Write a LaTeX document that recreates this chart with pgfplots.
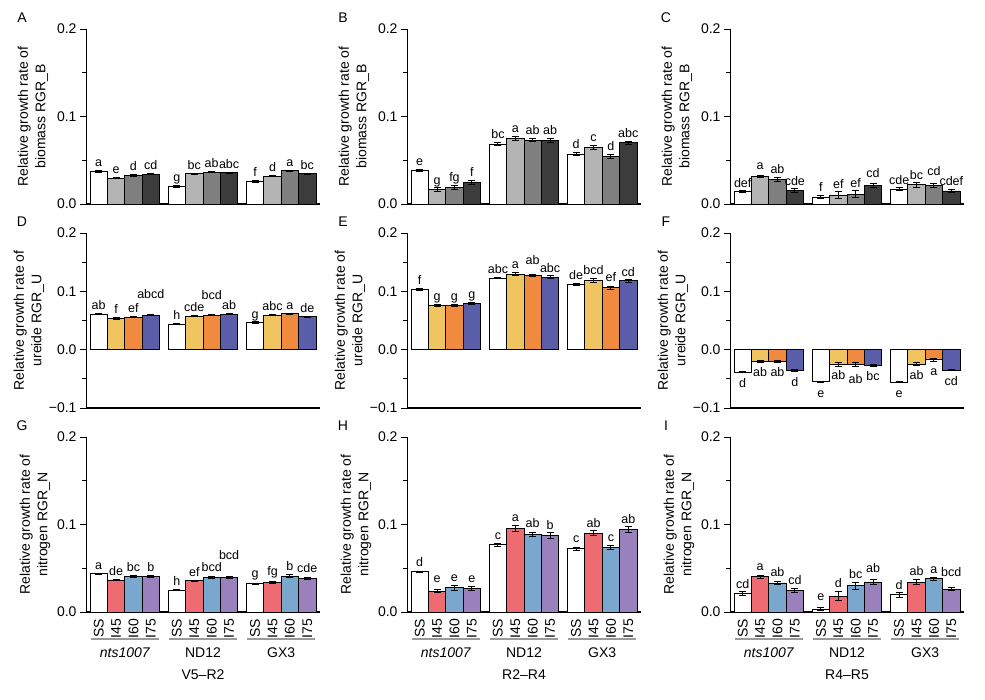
\documentclass[border=0pt]{standalone}
\usepackage{fontspec}
\setmainfont{Liberation Sans}
\usepackage{pgfplots}
\usepackage{pgfplotstable}
\pgfplotsset{compat=1.18}

\definecolor{w}{HTML}{FFFFFF}
\definecolor{g1}{HTML}{B4B4B4}
\definecolor{g2}{HTML}{7F7F7F}
\definecolor{g3}{HTML}{3C3C3C}
\definecolor{y1}{HTML}{F1C462}
\definecolor{y2}{HTML}{F08A3E}
\definecolor{y3}{HTML}{5A5EA8}
\definecolor{r1}{HTML}{EE6B72}
\definecolor{r2}{HTML}{7AA7CD}
\definecolor{r3}{HTML}{9B80BE}
\definecolor{grp}{HTML}{9A9A9A}

\newcommand\ticfont{\fontsize{14}{17}\selectfont}
\newcommand\labfont{\fontsize{14}{17.5}\selectfont}
\newcommand\letfont{\fontsize{12.5}{14}\selectfont}

% t: 0 = SS, 1 = I45, 2 = I60, 3 = I75; dy = baseline offset of the letter (pt)
\pgfplotstableread{
t x y e lab dy
0 0 0.0370 0.0008 a 4
1 1 0.0294 0.0008 e 4
2 2 0.0324 0.0008 d 4
3 3 0.0340 0.0006 cd 4
0 4.5 0.0202 0.0008 g 4
1 5.5 0.0347 0.0007 bc 4
2 6.5 0.0363 0.0008 ab 4
3 7.5 0.0355 0.0008 abc 4
0 9 0.0260 0.0009 f 4
1 10 0.0317 0.0008 d 4
2 11 0.0378 0.0008 a 4
3 12 0.0347 0.0007 bc 4
}\tA
\pgfplotstableread{
t x y e lab dy
0 0 0.0382 0.0012 e 4
1 1 0.0168 0.0020 g 3
2 2 0.0190 0.0020 fg 4
3 3 0.0244 0.0020 f 4
0 4.5 0.0683 0.0015 bc 4
1 5.5 0.0752 0.0025 a 4
2 6.5 0.0729 0.0018 ab 4
3 7.5 0.0725 0.0025 ab 4
0 9 0.0569 0.0015 d 4
1 10 0.0649 0.0022 c 4
2 11 0.0542 0.0020 d 4
3 12 0.0698 0.0022 abc 4
}\tB
\pgfplotstableread{
t x y e lab dy
0 0 0.0141 0.0015 def 3
1 1 0.0313 0.0015 a 6
2 2 0.0282 0.0020 ab 4
3 3 0.0156 0.0020 cde 3
0 4.5 0.0080 0.0015 f 4
1 5.5 0.0103 0.0040 ef 3
2 6.5 0.0110 0.0040 ef 3
3 7.5 0.0214 0.0025 cd 6
0 9 0.0172 0.0020 cde 3
1 10 0.0218 0.0030 bc 3
2 11 0.0210 0.0025 cd 8
3 12 0.0149 0.0015 cdef 4
}\tC
\pgfplotstableread{
t x y e lab dy
0 0 0.0606 0.0010 ab 4
1 1 0.0537 0.0012 f 4
2 2 0.0560 0.0012 ef 4
3 3 0.0594 0.0010 abcd 16
0 4.5 0.0434 0.0008 h 4
1 5.5 0.0577 0.0010 cde 4
2 6.5 0.0589 0.0008 bcd 15
3 7.5 0.0606 0.0010 ab 4
0 9 0.0469 0.0012 g 3
1 10 0.0594 0.0012 abc 4
2 11 0.0617 0.0010 a 4
3 12 0.0566 0.0010 de 4
}\tD
\pgfplotstableread{
t x y e lab dy
0 0 0.1029 0.0015 f 4
1 1 0.0760 0.0020 g 4
2 2 0.0760 0.0020 g 4
3 3 0.0794 0.0020 g 4
0 4.5 0.1229 0.0015 abc 4
1 5.5 0.1297 0.0030 a 4
2 6.5 0.1269 0.0018 ab 10
3 7.5 0.1240 0.0025 abc 3
0 9 0.1120 0.0015 de 4
1 10 0.1189 0.0030 bcd 4
2 11 0.1063 0.0025 ef 5
3 12 0.1183 0.0028 cd 3
}\tE
\pgfplotstableread{
t x y e lab dy
0 0 -0.0389 0.0010 d -15
1 1 -0.0200 0.0018 ab -14
2 2 -0.0206 0.0018 ab -14
3 3 -0.0354 0.0020 d -15
0 4.5 -0.0549 0.0010 e -15
1 5.5 -0.0251 0.0035 ab -13
2 6.5 -0.0251 0.0030 ab -17
3 7.5 -0.0274 0.0015 bc -14
0 9 -0.0560 0.0008 e -15
1 10 -0.0246 0.0025 ab -14
2 11 -0.0171 0.0025 a -14
3 12 -0.0349 0.0015 cd -15
}\tF
\pgfplotstableread{
t x y e lab dy
0 0 0.0435 0.0010 a 4
1 1 0.0366 0.0010 de 4
2 2 0.0405 0.0012 bc 4
3 3 0.0408 0.0010 b 4
0 4.5 0.0252 0.0008 h 4
1 5.5 0.0355 0.0008 ef 4
2 6.5 0.0393 0.0010 bcd 5
3 7.5 0.0393 0.0008 bcd 17
0 9 0.0321 0.0010 g 6
1 10 0.0336 0.0008 fg 6
2 11 0.0412 0.0015 b 4
3 12 0.0378 0.0012 cde 5
}\tG
\pgfplotstableread{
t x y e lab dy
0 0 0.0458 0.0010 d 5
1 1 0.0237 0.0015 e 7
2 2 0.0275 0.0025 e 4
3 3 0.0271 0.0020 e 4
0 4.5 0.0767 0.0015 c 4
1 5.5 0.0954 0.0030 a 4
2 6.5 0.0885 0.0020 ab 5
3 7.5 0.0874 0.0035 b 3
0 9 0.0721 0.0020 c 5
1 10 0.0901 0.0030 ab 3
2 11 0.0740 0.0025 c 4
3 12 0.0943 0.0030 ab 3
}\tH
\pgfplotstableread{
t x y e lab dy
0 0 0.0214 0.0020 cd 3
1 1 0.0401 0.0020 a 5
2 2 0.0332 0.0022 ab 5
3 3 0.0244 0.0020 cd 4
0 4.5 0.0034 0.0020 e 7
1 5.5 0.0179 0.0050 d 4
2 6.5 0.0298 0.0040 bc 4
3 7.5 0.0340 0.0030 ab 7
0 9 0.0195 0.0025 d 3
1 10 0.0340 0.0030 ab 4
2 11 0.0378 0.0022 a 4
3 12 0.0260 0.0015 bcd 11
}\tI

\pgfplotsset{
  treat/.style={restrict expr to domain={\thisrow{t}}{#1:#1}},
  panel/.style={
    width=234pt, height=175pt, scale only axis, anchor=south west,
    xmin=-0.73, xmax=12.73, clip=false,
    axis x line=bottom, axis y line=left,
    x axis line style={-, line width=1.3pt},
    y axis line style={-, line width=1pt},
    tick align=outside, major tick length=6pt, minor tick length=4pt,
    ytick style={black, line width=1pt},
    yticklabel style={font=\ticfont},
    every axis title/.style={at={([xshift=-64pt,yshift=11pt]rel axis cs:0,1)}, anchor=center, font=\ticfont},
  },
  ylab/.style={every axis y label/.style={at={([xshift=#1]rel axis cs:0,0.5)}, rotate=90, anchor=center, align=center, font=\labfont}},
  toprow/.style={ymin=0, ymax=0.2, ytick={0,0.1,0.2}, minor ytick={0.05,0.15},
    yticklabels={0.0,0.1,0.2}, xtick=\empty, ylab=-53pt},
  midrow/.style={ymin=-0.1, ymax=0.2, ytick={-0.1,0,0.1,0.2}, minor ytick={-0.05,0.05,0.15},
    yticklabels={−0.1,0.0,0.1,0.2}, xtick=\empty, ylab=-57pt},
  botrow/.style={ymin=0, ymax=0.2, ytick={0,0.1,0.2}, minor ytick={0.05,0.15},
    yticklabels={0.0,0.1,0.2}, ylab=-51pt,
    xtick={0,1,2,3,4.5,5.5,6.5,7.5,9,10,11,12},
    xticklabels={SS,I45,I60,I75,SS,I45,I60,I75,SS,I45,I60,I75},
    xticklabel style={rotate=90, anchor=east, font=\ticfont, inner sep=1pt},
    x tick style={draw=none}, major x tick style={draw=none}},
  barst/.style={ybar, bar width=1, bar shift=0pt, draw=black, line width=0.9pt,
    error bars/y dir=both, error bars/y explicit,
    error bars/error bar style={line width=1pt, black},
    error bars/error mark options={rotate=90, line width=1pt, mark size=3.5pt, black}},
  letters/.style={draw=none, mark=none, nodes near coords, point meta=explicit symbolic,
    visualization depends on={\thisrow{dy} \as \labdy},
    every node near coord/.append style={anchor=base, yshift=\labdy pt, font=\letfont, inner sep=0pt, text=black}},
}

\newcommand\bars[5]{%
  \addplot[barst, fill=#2, treat=0] table[x=x, y=y, y error=e]{#1};
  \addplot[barst, fill=#3, treat=1] table[x=x, y=y, y error=e]{#1};
  \addplot[barst, fill=#4, treat=2] table[x=x, y=y, y error=e]{#1};
  \addplot[barst, fill=#5, treat=3] table[x=x, y=y, y error=e]{#1};
  \addplot[letters] table[x=x, y expr={\thisrow{y}+ifthenelse(\thisrow{y}<0,-1,1)*\thisrow{e}}, meta=lab]{#1};
}
\newcommand\groups[1]{%
  \draw[grp, line width=2pt] ([yshift=-27pt]axis cs:-0.45,0) -- ([yshift=-27pt]axis cs:3.45,0);
  \draw[grp, line width=2pt] ([yshift=-27pt]axis cs:4.05,0) -- ([yshift=-27pt]axis cs:7.95,0);
  \draw[grp, line width=2pt] ([yshift=-27pt]axis cs:8.55,0) -- ([yshift=-27pt]axis cs:12.45,0);
  \node[anchor=base, font=\ticfont\itshape] at ([yshift=-45pt]axis cs:1.5,0) {nts1007};
  \node[anchor=base, font=\ticfont] at ([yshift=-45pt]axis cs:6,0) {ND12};
  \node[anchor=base, font=\ticfont] at ([yshift=-45pt]axis cs:10.5,0) {GX3};
  \node[anchor=base, font=\ticfont] at ([yshift=-67pt]axis cs:6,0) {#1};
}

\begin{document}
\begin{tikzpicture}
\useasboundingbox (0pt,0pt) rectangle (985pt,-699pt);

\begin{axis}[panel, toprow, at={(86pt,-204pt)}, title={A}, ylabel={Relative growth rate of\\biomass RGR\_B}]
\bars{\tA}{w}{g1}{g2}{g3}
\end{axis}
\begin{axis}[panel, toprow, at={(407pt,-204pt)}, title={B}, ylabel={Relative growth rate of\\biomass RGR\_B}]
\bars{\tB}{w}{g1}{g2}{g3}
\end{axis}
\begin{axis}[panel, toprow, at={(730pt,-204pt)}, title={C}, ylabel={Relative growth rate of\\biomass RGR\_B}]
\bars{\tC}{w}{g1}{g2}{g3}
\end{axis}

\begin{axis}[panel, midrow, at={(86pt,-408pt)}, title={D}, ylabel={Relative growth rate of\\ureide RGR\_U}]
\bars{\tD}{w}{y1}{y2}{y3}
\end{axis}
\begin{axis}[panel, midrow, at={(407pt,-408pt)}, title={E}, ylabel={Relative growth rate of\\ureide RGR\_U}]
\bars{\tE}{w}{y1}{y2}{y3}
\end{axis}
\begin{axis}[panel, midrow, at={(730pt,-408pt)}, title={F}, ylabel={Relative growth rate of\\ureide RGR\_U}]
\bars{\tF}{w}{y1}{y2}{y3}
\end{axis}

\begin{axis}[panel, botrow, at={(86pt,-612pt)}, title={G}, ylabel={Relative growth rate of\\nitrogen RGR\_N}]
\bars{\tG}{w}{r1}{r2}{r3}
\groups{V5–R2}
\end{axis}
\begin{axis}[panel, botrow, at={(407pt,-612pt)}, title={H}, ylabel={Relative growth rate of\\nitrogen RGR\_N}]
\bars{\tH}{w}{r1}{r2}{r3}
\groups{R2–R4}
\end{axis}
\begin{axis}[panel, botrow, at={(730pt,-612pt)}, title={I}, ylabel={Relative growth rate of\\nitrogen RGR\_N}]
\bars{\tI}{w}{r1}{r2}{r3}
\groups{R4–R5}
\end{axis}
\end{tikzpicture}
\end{document}
